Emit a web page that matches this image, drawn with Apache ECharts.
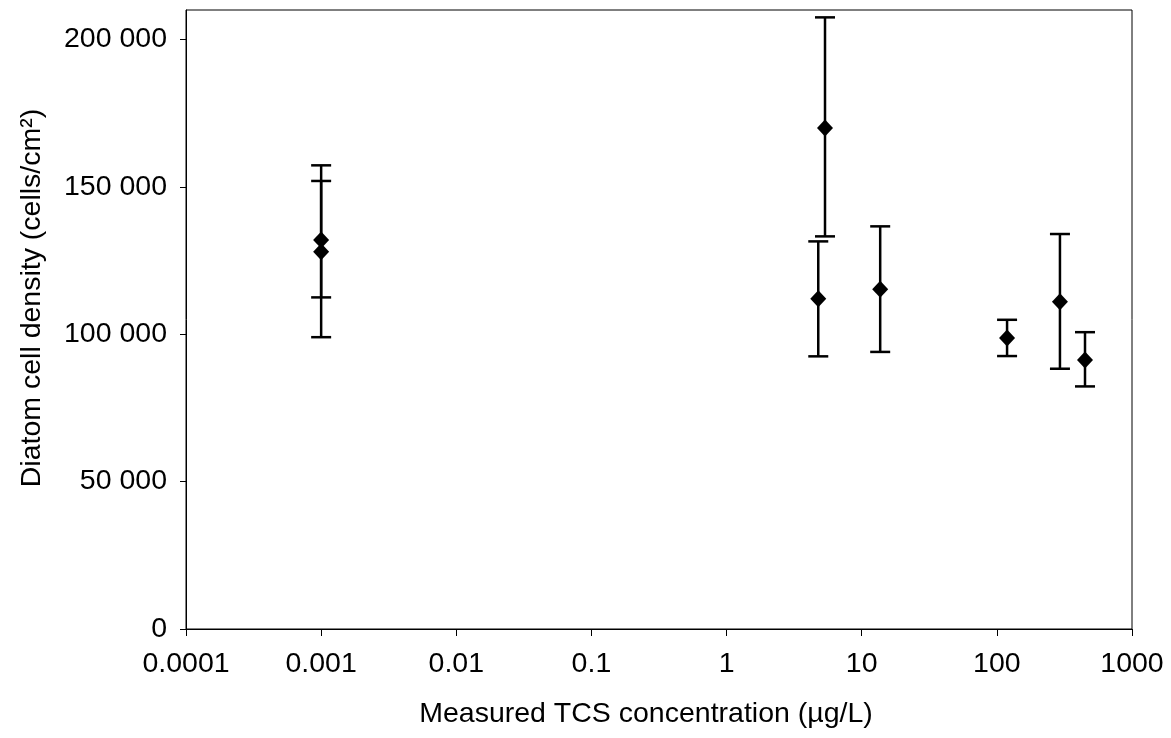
<!DOCTYPE html>
<html>
<head>
<meta charset="utf-8">
<script src="https://cdn.jsdelivr.net/npm/echarts@6/dist/echarts.min.js"></script>
<style>
  html, body { margin: 0; padding: 0; background: #fff; }
  #chart { width: 1171px; height: 738px; }
</style>
</head>
<body>
<div id="chart"></div>
<script>
// measured concentration (µg/L) and diatom density with error bar bounds
const concentration = [0.001, 0.001, 4.77, 5.35, 13.7, 119, 293, 449];
const density = [132000, 128000, 112000, 170000, 115300, 98700, 111000, 91300];
const upper = [152000, 157300, 131500, 207500, 136600, 104900, 134000, 100700];
const lower = [112500, 99000, 92500, 133200, 94000, 92600, 88300, 82300];

const xTickLabels = ['0.0001', '0.001', '0.01', '0.1', '1', '10', '100', '1000'];
const yTicks = [0, 50000, 100000, 150000, 200000];

const font = '"Liberation Sans", Arial, sans-serif';

const chart = echarts.init(document.getElementById('chart'));

const points = concentration.map((c, i) => [c, density[i]]);
const bars = concentration.map((c, i) => [c, lower[i], upper[i]]);

function renderErrorBar(params, api) {
  const x = api.value(0);
  const lo = api.coord([x, api.value(1)]);
  const hi = api.coord([x, api.value(2)]);
  const half = 10;
  const style = { stroke: '#000', lineWidth: 2.5 };
  return {
    type: 'group',
    children: [
      { type: 'line', shape: { x1: lo[0], y1: lo[1], x2: hi[0], y2: hi[1] }, style },
      { type: 'line', shape: { x1: lo[0] - half, y1: lo[1], x2: lo[0] + half, y2: lo[1] }, style },
      { type: 'line', shape: { x1: hi[0] - half, y1: hi[1], x2: hi[0] + half, y2: hi[1] }, style }
    ]
  };
}

chart.setOption({
  animation: false,
  backgroundColor: '#fff',
  grid: {
    left: 186, top: 10, right: 39, bottom: 109,
    show: true, borderColor: '#000', borderWidth: 1
  },
  xAxis: {
    type: 'log',
    logBase: 10,
    min: 0.0001,
    max: 1000,
    axisLine: { lineStyle: { color: '#000', width: 1 } },
    axisTick: { show: true, inside: false, length: 7, lineStyle: { color: '#000' } },
    splitLine: { show: false },
    minorTick: { show: false },
    axisLabel: {
      color: '#000', fontFamily: font, fontSize: 28.5, margin: 21,
      formatter: v => xTickLabels[Math.round(Math.log10(v)) + 4]
    }
  },
  yAxis: {
    type: 'value',
    min: 0,
    max: 210000,
    axisLine: { show: true, lineStyle: { color: '#000', width: 1 } },
    axisTick: { show: true, inside: false, length: 6, customValues: yTicks, lineStyle: { color: '#000' } },
    splitLine: { show: false },
    axisLabel: {
      color: '#000', fontFamily: font, fontSize: 28.5, margin: 19,
      customValues: yTicks,
      formatter: v => String(v).replace(/\B(?=(\d{3})+(?!\d))/g, ' ')
    }
  },
  graphic: [
    {
      type: 'text', x: 646, y: 714,
      style: {
        text: 'Measured TCS concentration (µg/L)', font: '28.5px ' + font,
        fill: '#000', textAlign: 'center', textVerticalAlign: 'middle'
      }
    },
    {
      type: 'text', x: 32, y: 298, rotation: Math.PI / 2,
      style: {
        text: 'Diatom cell density (cells/cm²)', font: '28.5px ' + font,
        fill: '#000', textAlign: 'center', textVerticalAlign: 'middle'
      }
    }
  ],
  series: [
    {
      type: 'custom',
      renderItem: renderErrorBar,
      data: bars,
      encode: { x: 0, y: [1, 2] },
      z: 2
    },
    {
      type: 'scatter',
      data: points,
      symbol: 'diamond',
      symbolSize: [16, 17],
      itemStyle: { color: '#000', opacity: 1 },
      z: 3
    }
  ]
});
</script>
</body>
</html>
